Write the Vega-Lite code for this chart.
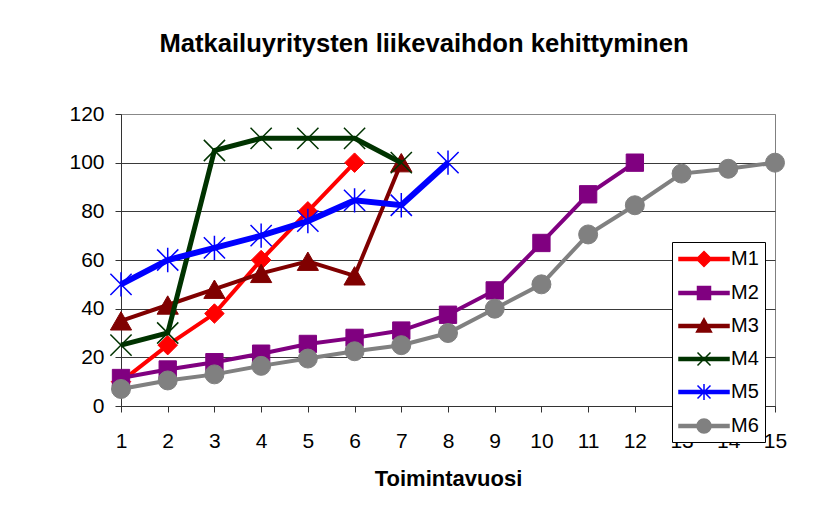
{
  "$schema": "https://vega.github.io/schema/vega-lite/v6.json",
  "width": 654,
  "height": 292,
  "autosize": {"type": "none"},
  "padding": {"left": 121, "top": 114, "right": 49, "bottom": 100},
  "background": "white",
  "title": {
    "text": "Matkailuyritysten liikevaihdon kehittyminen",
    "anchor": "middle",
    "dx": -24,
    "offset": 25,
    "baseline": "alphabetic",
    "font": "Liberation Sans",
    "fontSize": 25.6,
    "fontWeight": "bold",
    "color": "black"
  },
  "data": {
    "values": [
      {"series": "M1", "year": 1, "value": 10},
      {"series": "M1", "year": 2, "value": 25},
      {"series": "M1", "year": 3, "value": 38},
      {"series": "M1", "year": 4, "value": 60},
      {"series": "M1", "year": 5, "value": 80},
      {"series": "M1", "year": 6, "value": 100},
      {"series": "M2", "year": 1, "value": 11.5},
      {"series": "M2", "year": 2, "value": 15},
      {"series": "M2", "year": 3, "value": 18},
      {"series": "M2", "year": 4, "value": 21.5},
      {"series": "M2", "year": 5, "value": 25.5},
      {"series": "M2", "year": 6, "value": 28},
      {"series": "M2", "year": 7, "value": 31},
      {"series": "M2", "year": 8, "value": 37.5},
      {"series": "M2", "year": 9, "value": 47.5},
      {"series": "M2", "year": 10, "value": 67},
      {"series": "M2", "year": 11, "value": 87},
      {"series": "M2", "year": 12, "value": 100},
      {"series": "M3", "year": 1, "value": 35},
      {"series": "M3", "year": 2, "value": 41.5},
      {"series": "M3", "year": 3, "value": 48},
      {"series": "M3", "year": 4, "value": 54.5},
      {"series": "M3", "year": 5, "value": 59.5},
      {"series": "M3", "year": 6, "value": 53.5},
      {"series": "M3", "year": 7, "value": 100},
      {"series": "M4", "year": 1, "value": 25},
      {"series": "M4", "year": 2, "value": 30},
      {"series": "M4", "year": 3, "value": 105},
      {"series": "M4", "year": 4, "value": 110},
      {"series": "M4", "year": 5, "value": 110},
      {"series": "M4", "year": 6, "value": 110},
      {"series": "M4", "year": 7, "value": 100},
      {"series": "M5", "year": 1, "value": 50},
      {"series": "M5", "year": 2, "value": 60},
      {"series": "M5", "year": 3, "value": 65},
      {"series": "M5", "year": 4, "value": 70},
      {"series": "M5", "year": 5, "value": 76},
      {"series": "M5", "year": 6, "value": 84.5},
      {"series": "M5", "year": 7, "value": 82.5},
      {"series": "M5", "year": 8, "value": 100},
      {"series": "M6", "year": 1, "value": 7},
      {"series": "M6", "year": 2, "value": 10.5},
      {"series": "M6", "year": 3, "value": 13},
      {"series": "M6", "year": 4, "value": 16.5},
      {"series": "M6", "year": 5, "value": 19.5},
      {"series": "M6", "year": 6, "value": 22.5},
      {"series": "M6", "year": 7, "value": 25},
      {"series": "M6", "year": 8, "value": 30},
      {"series": "M6", "year": 9, "value": 40},
      {"series": "M6", "year": 10, "value": 50},
      {"series": "M6", "year": 11, "value": 70.5},
      {"series": "M6", "year": 12, "value": 82.5},
      {"series": "M6", "year": 13, "value": 95.5},
      {"series": "M6", "year": 14, "value": 97.5},
      {"series": "M6", "year": 15, "value": 100}
    ]
  },
  "encoding": {
    "x": {
      "field": "year",
      "type": "quantitative",
      "scale": {"domain": [1, 15], "nice": false, "zero": false},
      "axis": {
        "title": "Toimintavuosi",
        "values": [1, 2, 3, 4, 5, 6, 7, 8, 9, 10, 11, 12, 13, 14, 15],
        "grid": false,
        "labelFlush": false,
        "labelOverlap": false,
        "labelFontSize": 21,
        "labelPadding": 18,
        "titleFontSize": 22,
        "titlePadding": 17
      }
    },
    "y": {
      "field": "value",
      "type": "quantitative",
      "scale": {"domain": [0, 120], "nice": false},
      "axis": {
        "title": null,
        "values": [0, 20, 40, 60, 80, 100, 120],
        "grid": true,
        "labelFlush": false,
        "gridColor": {"condition": {"test": "datum.value === 120", "value": "#888888"}, "value": "#3a3a3a"},
        "gridWidth": 1,
        "labelFontSize": 21,
        "labelPadding": 11
      }
    },
    "stroke": {
      "field": "series",
      "type": "nominal",
      "scale": {
        "domain": ["M1", "M2", "M3", "M4", "M5", "M6"],
        "range": ["#FF0000", "#800080", "#800000", "#003300", "#0000FF", "#808080"]
      },
      "legend": {
        "title": null,
        "orient": "none",
        "legendX": 551,
        "legendY": 128,
        "direction": "vertical",
        "fillColor": "white",
        "strokeColor": "black",
        "padding": 6,
        "symbolSize": 400,
        "symbolOffset": 15,
        "labelOffset": 16,
        "rowPadding": 12,
        "labelFont": "Liberation Sans",
        "labelFontSize": 20,
        "labelColor": "black",
        "symbolStrokeWidth": 1.5,
        "encode": {
          "symbols": {
            "update": {
              "shape": {"signal": "{'M1':'M-2.5,-0.15H2.5V0.15H-2.5Z M0,-0.75L0.75,0L0,0.75L-0.75,0Z','M2':'M-2.5,-0.15H2.5V0.15H-2.5Z M-0.65,-0.65H0.65V0.65H-0.65Z','M3':'M-2.5,-0.15H2.5V0.15H-2.5Z M0,-0.75L0.75,0.6L-0.75,0.6Z','M4':'M-2.5,-0.15H2.5V0.15H-2.5Z M-0.65,-0.65L0.65,0.65M-0.65,0.65L0.65,-0.65','M5':'M-2.5,-0.15H2.5V0.15H-2.5Z M-0.65,-0.65L0.65,0.65M-0.65,0.65L0.65,-0.65M0,-0.8V0.8','M6':'M-2.5,-0.15H2.5V0.15H-2.5Z M0.7,0A0.7,0.7 0 1,1 -0.7,0A0.7,0.7 0 1,1 0.7,0Z'}[datum.value]"},
              "fill": {"signal": "{'M1':'#FF0000','M2':'#800080','M3':'#800000','M4':'#003300','M5':'#0000FF','M6':'#808080'}[datum.value]"},
              "stroke": {"signal": "{'M1':'#FF0000','M2':'#800080','M3':'#800000','M4':'#003300','M5':'#0000FF','M6':'#808080'}[datum.value]"},
              "strokeWidth": {"value": 1.5},
              "size": {"value": 400},
              "opacity": {"value": 1}
            }
          }
        }
      }
    }
  },
  "layer": [
    {"transform": [{"filter": "datum.series === 'M1'"}], "mark": {"type": "line", "strokeWidth": 4}},
    {"transform": [{"filter": "datum.series === 'M1'"}], "mark": {"type": "point", "shape": "diamond", "size": 380, "fill": "#FF0000", "fillOpacity": 1, "opacity": 1, "strokeWidth": 1}},
    {"transform": [{"filter": "datum.series === 'M2'"}], "mark": {"type": "line", "strokeWidth": 4}},
    {"transform": [{"filter": "datum.series === 'M2'"}], "mark": {"type": "point", "shape": "square", "size": 300, "fill": "#800080", "fillOpacity": 1, "opacity": 1, "strokeWidth": 1}},
    {"transform": [{"filter": "datum.series === 'M3'"}], "mark": {"type": "line", "strokeWidth": 4}},
    {"transform": [{"filter": "datum.series === 'M3'"}], "mark": {"type": "point", "shape": "triangle-up", "size": 450, "fill": "#800000", "fillOpacity": 1, "opacity": 1, "strokeWidth": 1}},
    {"transform": [{"filter": "datum.series === 'M4'"}], "mark": {"type": "line", "strokeWidth": 5}},
    {"transform": [{"filter": "datum.series === 'M4'"}], "mark": {"type": "point", "shape": "M-1,-1L1,1M-1,1L1,-1", "size": 450, "fill": "transparent", "opacity": 1, "strokeWidth": 1.5}},
    {"transform": [{"filter": "datum.series === 'M5'"}], "mark": {"type": "line", "strokeWidth": 6}},
    {"transform": [{"filter": "datum.series === 'M5'"}], "mark": {"type": "point", "shape": "M-1,-1L1,1M-1,1L1,-1M0,-1.15V1.15", "size": 450, "fill": "transparent", "opacity": 1, "strokeWidth": 1.5}},
    {"transform": [{"filter": "datum.series === 'M6'"}], "mark": {"type": "line", "strokeWidth": 4}},
    {"transform": [{"filter": "datum.series === 'M6'"}], "mark": {"type": "point", "shape": "circle", "size": 360, "fill": "#808080", "fillOpacity": 1, "opacity": 1, "strokeWidth": 1}}
  ],
  "config": {
    "font": "Liberation Sans",
    "view": {"stroke": "#808080"},
    "axis": {
      "labelFont": "Liberation Sans",
      "labelColor": "black",
      "titleFont": "Liberation Sans",
      "titleColor": "black",
      "titleFontWeight": "bold",
      "domainColor": "#333333",
      "tickColor": "#333333",
      "tickSize": 6,
      "domainWidth": 1,
      "tickWidth": 1
    }
  }
}
